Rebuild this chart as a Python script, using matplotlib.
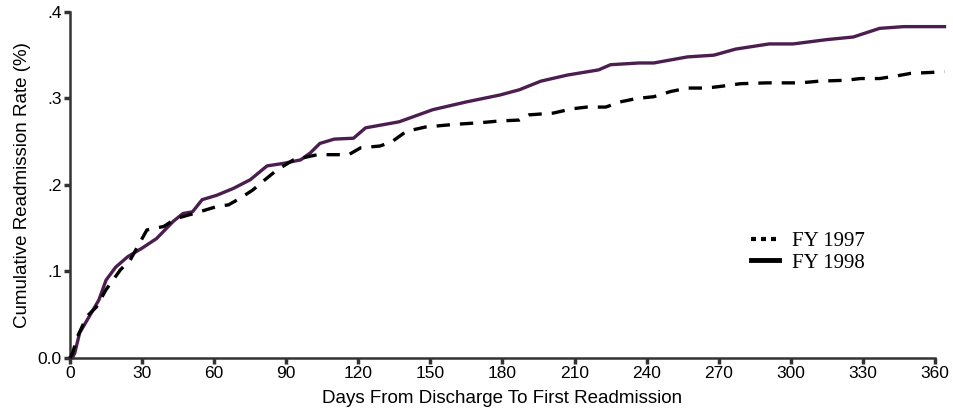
import matplotlib
matplotlib.use("Agg")
import matplotlib.pyplot as plt
from matplotlib.lines import Line2D

days98 = [0, 1, 2, 4, 8, 12, 15, 19, 24, 30, 36, 43, 47, 51, 55, 61, 68, 75, 82, 89, 96, 100, 104, 110, 118, 123, 137, 151, 165, 179, 187, 196, 207, 220, 225, 237, 243, 257, 268, 277, 291, 301, 315, 326, 337, 347, 364]
vals98 = [0, 0, .006, .029, .048, .067, .09, .105, .117, .127, .138, .158, .167, .169, .183, .188, .196, .206, .222, .225, .229, .237, .248, .253, .254, .266, .273, .287, .296, .304, .31, .32, .327, .333, .339, .341, .341, .348, .35, .357, .363, .363, .368, .371, .381, .383, .383]

days97 = [0, 1, 3, 7, 11, 15, 21, 25, 28, 32, 39, 44, 54, 61, 66, 71, 76, 82, 86, 93, 103, 116, 121, 129, 134, 137, 140, 148, 160, 171, 179, 187, 191, 201, 209, 215, 223, 229, 236, 243, 250, 257, 265, 271, 279, 290, 304, 312, 323, 329, 337, 344, 350, 358, 364]
vals97 = [0, .005, .024, .048, .059, .079, .102, .113, .128, .148, .152, .161, .169, .175, .177, .185, .194, .208, .217, .229, .235, .235, .243, .245, .25, .256, .262, .267, .27, .272, .274, .275, .281, .283, .288, .29, .29, .296, .3, .302, .308, .312, .312, .314, .317, .318, .318, .32, .321, .323, .323, .326, .329, .33, .331]

xticks = [0, 30, 60, 90, 120, 150, 180, 210, 240, 270, 300, 330, 360]
yticks = [0.0, 0.1, 0.2, 0.3, 0.4]
ytick_labels = ["0.0", ".1", ".2", ".3", ".4"]
labels = ["FY 1997", "FY 1998"]

fig = plt.figure(figsize=(9.54, 4.11), dpi=100)
ax = fig.add_axes([0.0734, 0.129, 0.9066, 0.842])

purple = "#4b1e4f"
ax.plot(days97, vals97, color="black", lw=2.4, dashes=(4, 3), clip_on=False, zorder=3)
ax.plot(days98, vals98, color=purple, lw=2.4, clip_on=False, zorder=2)

ax.set_xlim(0, 360)
ax.set_ylim(0, 0.4)
ax.set_xticks(xticks)
ax.set_xticklabels([str(t) for t in xticks])
ax.set_yticks(yticks)
ax.set_yticklabels(ytick_labels)

for s in ["top", "right"]:
    ax.spines[s].set_visible(False)
for s in ["left", "bottom"]:
    ax.spines[s].set_color("#333333")
    ax.spines[s].set_linewidth(1.8)

ax.tick_params(axis="both", direction="out", length=4, width=2.5, color="#333333",
               labelsize=12.5, pad=2)
for lab in ax.get_xticklabels() + ax.get_yticklabels():
    lab.set_fontfamily("Liberation Sans")

ax.set_xlabel("Days From Discharge To First Readmission", fontsize=13.5,
              fontfamily="Liberation Sans", labelpad=6)
ax.set_ylabel("Cumulative Readmission Rate (%)", fontsize=13.5,
              fontfamily="Liberation Sans", labelpad=5)

handles = [Line2D([0], [0], color="black", lw=3, dashes=(1.2, 1.2)),
           Line2D([0], [0], color="black", lw=3.5)]
leg = ax.legend(handles, labels, loc="upper left", bbox_to_anchor=(0.766, 0.42),
                frameon=False, handlelength=1.35, handletextpad=0.6,
                labelspacing=0.1, prop={"family": "Liberation Serif", "size": 15})

fig.savefig("out.png", dpi=100)
